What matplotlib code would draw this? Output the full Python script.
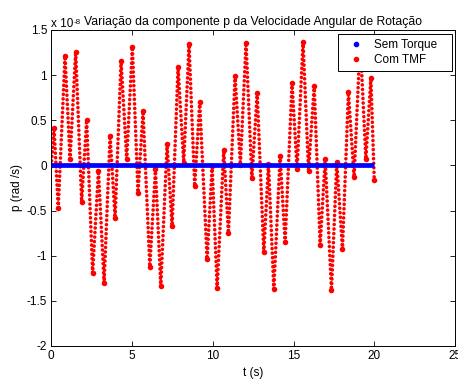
import matplotlib
matplotlib.use("Agg")
import matplotlib.pyplot as plt
from matplotlib.lines import Line2D

plt.rcParams['font.family'] = ['Liberation Sans', 'DejaVu Sans']
FS = 8.5

# ---- data (p in units of 1e-8 rad/s) ----
SCALE_EXP = -8
# "Sem Torque": constant zero from t=0 to t=20
blue_t = [0.0, 20.0]
blue_p = [0.0, 0.0]

# "Com TMF": successive extrema (peaks / troughs)
red_t = [0.00, 0.17, 0.43, 0.85, 1.16, 1.51, 1.88, 2.19, 2.56, 2.92,
         3.27, 3.64, 3.95, 4.32, 4.67, 5.02, 5.37, 5.68, 6.10, 6.45,
         6.78, 7.17, 7.48, 7.85, 8.20, 8.53, 8.88, 9.19, 9.65, 9.96,
         10.27, 10.68, 10.97, 11.38, 11.71, 12.06, 12.42, 12.75, 13.16, 13.45,
         13.78, 14.17, 14.48, 14.91, 15.22, 15.59, 15.93, 16.28, 16.65, 16.96,
         17.35, 17.68, 18.03, 18.40, 18.75, 19.13, 19.48, 19.79, 20.00]
red_p = [0.00, 0.42, -0.47, 1.21, 0.07, 1.26, -0.40, 0.50, -1.19, -0.06,
         -1.30, 0.33, -0.58, 1.16, 0.07, 1.31, -0.30, 0.60, -1.12, -0.04,
         -1.34, 0.24, -0.67, 1.09, 0.03, 1.34, -0.23, 0.70, -1.04, -0.01,
         -1.36, 0.17, -0.75, 0.99, 0.01, 1.36, -0.14, 0.80, -0.96, 0.02,
         -1.37, 0.10, -0.85, 0.91, -0.04, 1.37, -0.06, 0.88, -0.88, 0.07,
         -1.38, 0.04, -0.93, 0.81, -0.13, 1.38, 0.07, 0.97, -0.16]

x_ticks = [0, 5, 10, 15, 20, 25]
y_ticks = [-2, -1.5, -1, -0.5, 0, 0.5, 1, 1.5]
labels = ['Sem Torque', 'Com TMF']
title = 'Variação da componente p da Velocidade Angular de Rotação'

fig = plt.figure(figsize=(4.58, 3.85), dpi=100)
ax = fig.add_axes([51.3 / 458, 39 / 385, 403.7 / 458, 316 / 385])

ax.plot(red_t, red_p, color=(1, 0, 0), lw=2.6,
        linestyle=(0, (0.01, 1.25)), dash_capstyle='round',
        marker='o', markersize=4.0, markeredgewidth=0, zorder=2)
ax.plot(blue_t, blue_p, color=(0, 0, 1), lw=3.4, solid_capstyle='butt', zorder=3)

ax.set_xlim(0, 25)
ax.set_ylim(-2, 1.5)
ax.set_xticks(x_ticks)
ax.set_xticklabels([f'{v:g}' for v in x_ticks])
ax.set_yticks(y_ticks)
ax.set_yticklabels([f'{v:g}' for v in y_ticks])
ax.tick_params(direction='in', length=3.5, width=0.6, top=True, right=True,
               labelsize=FS, pad=3)
for s in ax.spines.values():
    s.set_linewidth(0.7)
    s.set_color('black')

ax.set_xlabel('t (s)', fontsize=FS, labelpad=3.5)
ax.set_ylabel('p (rad /s)', fontsize=FS, labelpad=3)
ax.set_title(title, fontsize=8.8, pad=3.3)
ax.text(0.0, 1.011, 'x 10', transform=ax.transAxes, fontsize=FS,
        ha='left', va='baseline')
ax.text(0.056, 1.0205, f'{SCALE_EXP}', transform=ax.transAxes, fontsize=5.8,
        ha='left', va='baseline')

handles = [Line2D([], [], color=(0, 0, 1), marker='o', ms=3, ls='none'),
           Line2D([], [], color=(1, 0, 0), marker='o', ms=3, ls='none')]
leg = ax.legend(handles, labels, loc='upper left',
                bbox_to_anchor=(0.710, 0.5, 0.2824, 0.487), mode='expand',
                borderaxespad=0, fontsize=FS, fancybox=False, framealpha=1,
                edgecolor='black', handlelength=2.2, handletextpad=0.42,
                borderpad=0.43, labelspacing=0.25)
leg.get_frame().set_linewidth(0.7)

fig.savefig('out.png', dpi=100)
